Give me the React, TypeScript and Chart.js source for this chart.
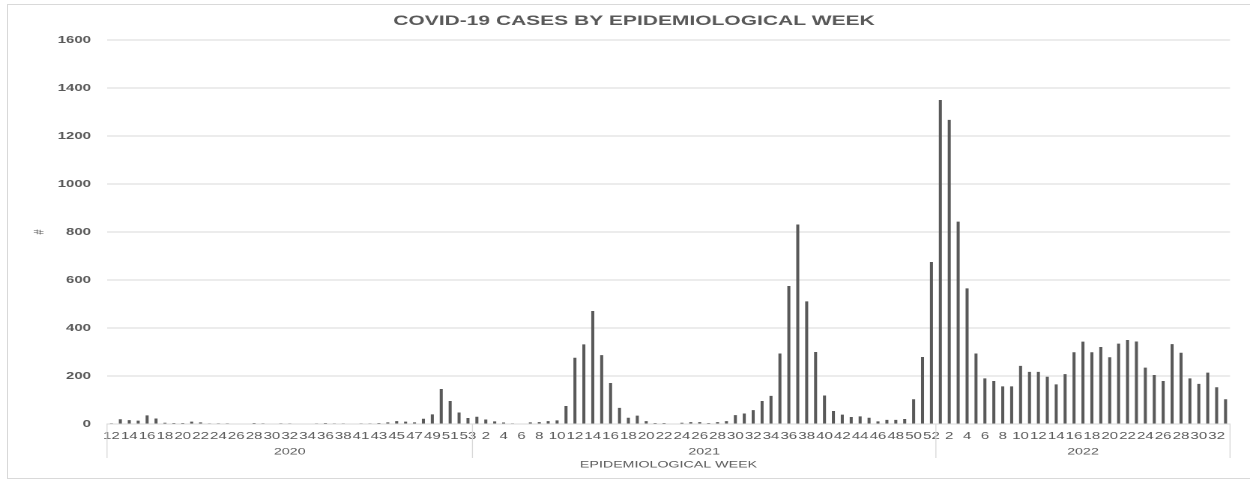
import React, { useEffect, useRef } from 'react';
import { Chart, registerables } from 'chart.js';

Chart.register(...registerables);

// ---- data ----
const weeks2020 = [12, 13, 14, 15, 16, 17, 18, 19, 20, 21, 22, 23, 24, 25, 26, 27, 28, 29, 30, 31, 32, 33, 34, 35, 36, 37, 38, 39, 41, 42, 43, 44, 45, 46, 47, 48, 49, 50, 51, 52, 53];
const cases2020 = [3, 20, 16, 14, 36, 23, 5, 4, 4, 10, 7, 1, 3, 3, 0, 0, 4, 3, 2, 3, 1, 2, 2, 1, 4, 1, 1, 0, 1, 1, 4, 7, 12, 10, 7, 22, 40, 146, 96, 48, 25];

const weeks2021 = [1, 2, 3, 4, 5, 6, 7, 8, 9, 10, 11, 12, 13, 14, 15, 16, 17, 18, 19, 20, 21, 22, 23, 24, 25, 26, 27, 28, 29, 30, 31, 32, 33, 34, 35, 36, 37, 38, 39, 40, 41, 42, 43, 44, 45, 46, 47, 48, 49, 50, 51, 52];
const cases2021 = [30, 19, 11, 6, 1, 0, 7, 8, 12, 15, 75, 276, 332, 471, 287, 171, 67, 26, 35, 12, 4, 4, 0, 5, 8, 8, 4, 8, 12, 37, 44, 58, 96, 117, 294, 575, 831, 511, 300, 119, 54, 39, 29, 32, 26, 11, 17, 17, 21, 103, 279, 675];

const weeks2022 = [1, 2, 3, 4, 5, 6, 7, 8, 9, 10, 11, 12, 13, 14, 15, 16, 17, 18, 19, 20, 21, 22, 23, 24, 25, 26, 27, 28, 29, 30, 31, 32, 33];
const cases2022 = [1350, 1267, 843, 565, 294, 190, 179, 157, 157, 242, 217, 217, 197, 165, 208, 299, 343, 299, 321, 278, 335, 350, 344, 235, 204, 179, 333, 297, 190, 167, 214, 153, 103];

const years = ['2020', '2021', '2022'];
const yTicks = [0, 200, 400, 600, 800, 1000, 1200, 1400, 1600];

const TITLE = 'COVID-19 CASES BY EPIDEMIOLOGICAL WEEK';
const X_TITLE = 'EPIDEMIOLOGICAL WEEK';
const Y_TITLE = '#';

// ---- layout (the chart is drawn narrow and stretched horizontally) ----
const W = 834;
const H = 479;
const S = 1250 / W;
const FONT = '"Liberation Sans", Arial, sans-serif';
const TEXT = '#595959';
const GRID = '#d9d9d9';

const groupSizes = [weeks2020.length, weeks2021.length, weeks2022.length];
const labels = [...weeks2020, ...weeks2021, ...weeks2022].map(String);
const values = [...cases2020, ...cases2021, ...cases2022];

const overlay = {
  id: 'overlay',
  afterDraw(chart: any) {
    const { ctx, chartArea, scales } = chart;
    const x = scales.x;
    ctx.save();
    ctx.fillStyle = TEXT;
    ctx.textAlign = 'center';
    ctx.textBaseline = 'middle';

    // title
    ctx.font = `bold 14px ${FONT}`;
    ctx.fillText(TITLE, 634 / S, 21);

    // y title
    ctx.save();
    ctx.translate(40 / S, (chartArea.top + chartArea.bottom) / 2);
    ctx.rotate(-Math.PI / 2);
    ctx.font = `9px ${FONT}`;
    ctx.fillText(Y_TITLE, 0, 0);
    ctx.restore();

    // group separators + year labels
    const bounds: number[] = [chartArea.left];
    let idx = 0;
    groupSizes.forEach((n, g) => {
      idx += n;
      if (g < groupSizes.length - 1) {
        bounds.push((x.getPixelForValue(idx - 1) + x.getPixelForValue(idx)) / 2);
      } else {
        bounds.push(chartArea.right);
      }
    });
    ctx.strokeStyle = GRID;
    ctx.lineWidth = 1 / S;
    bounds.forEach((b) => {
      ctx.beginPath();
      ctx.moveTo(b, chartArea.bottom);
      ctx.lineTo(b, 458);
      ctx.stroke();
    });
    ctx.font = `9.5px ${FONT}`;
    years.forEach((yr, g) => {
      ctx.fillText(yr, (bounds[g] + bounds[g + 1]) / 2, 452);
    });

    // x title
    ctx.font = `9.5px ${FONT}`;
    ctx.fillText(X_TITLE, (chartArea.left + chartArea.right) / 2, 465);
    ctx.restore();
  },
};

export default function App() {
  const ref = useRef<HTMLCanvasElement | null>(null);

  useEffect(() => {
    if (!ref.current) return;
    const chart = new Chart(ref.current, {
      type: 'bar',
      data: {
        labels,
        datasets: [
          {
            data: values,
            backgroundColor: '#595959',
            categoryPercentage: 1,
            barPercentage: 0.34,
          },
        ],
      },
      options: {
        responsive: false,
        animation: false,
        devicePixelRatio: 2,
        layout: { padding: { top: 40, right: W - 1230 / S, left: 0, bottom: 0 } },
        plugins: {
          legend: { display: false },
          title: { display: false },
          tooltip: { enabled: false },
        },
        scales: {
          x: {
            grid: { display: false, drawTicks: false, tickLength: 0 },
            border: { display: true, color: GRID, width: 1 },
            ticks: {
              autoSkip: false,
              maxRotation: 0,
              minRotation: 0,
              color: TEXT,
              padding: 6,
              font: { family: FONT, size: 10 },
              callback: (_v: any, i: number) => (i % 2 === 0 ? labels[i] : ''),
            },
            afterFit: (scale: any) => {
              scale.height = H - 424;
            },
          },
          y: {
            min: 0,
            max: 1600,
            afterBuildTicks: (scale: any) => {
              scale.ticks = yTicks.map((v) => ({ value: v }));
            },
            grid: { color: GRID, drawTicks: false, tickLength: 0, lineWidth: 1 },
            border: { display: false },
            ticks: {
              color: TEXT,
              padding: 16 / S,
              font: { family: FONT, size: 10, weight: 'bold' },
              callback: (v: any) => String(v),
            },
            afterFit: (scale: any) => {
              scale.width = 107 / S;
            },
          },
        },
      },
      plugins: [overlay],
    } as any);
    return () => chart.destroy();
  }, []);

  return (
    <div style={{ position: 'fixed', left: 0, top: 0, width: 1250, height: 479, overflow: 'hidden', background: '#fff' }}>
      <div
        style={{
          position: 'absolute',
          left: 7,
          top: 4,
          width: 1260,
          height: 473,
          borderLeft: `1px solid ${GRID}`,
          borderTop: `1px solid ${GRID}`,
          borderBottom: `1px solid ${GRID}`,
        }}
      />
      <div style={{ position: 'absolute', left: 0, top: 0, width: W, height: H, transform: `scaleX(${S})`, transformOrigin: '0 0' }}>
        <canvas ref={ref} width={W} height={H} style={{ width: `${W}px`, height: `${H}px`, display: 'block' }} />
      </div>
    </div>
  );
}
